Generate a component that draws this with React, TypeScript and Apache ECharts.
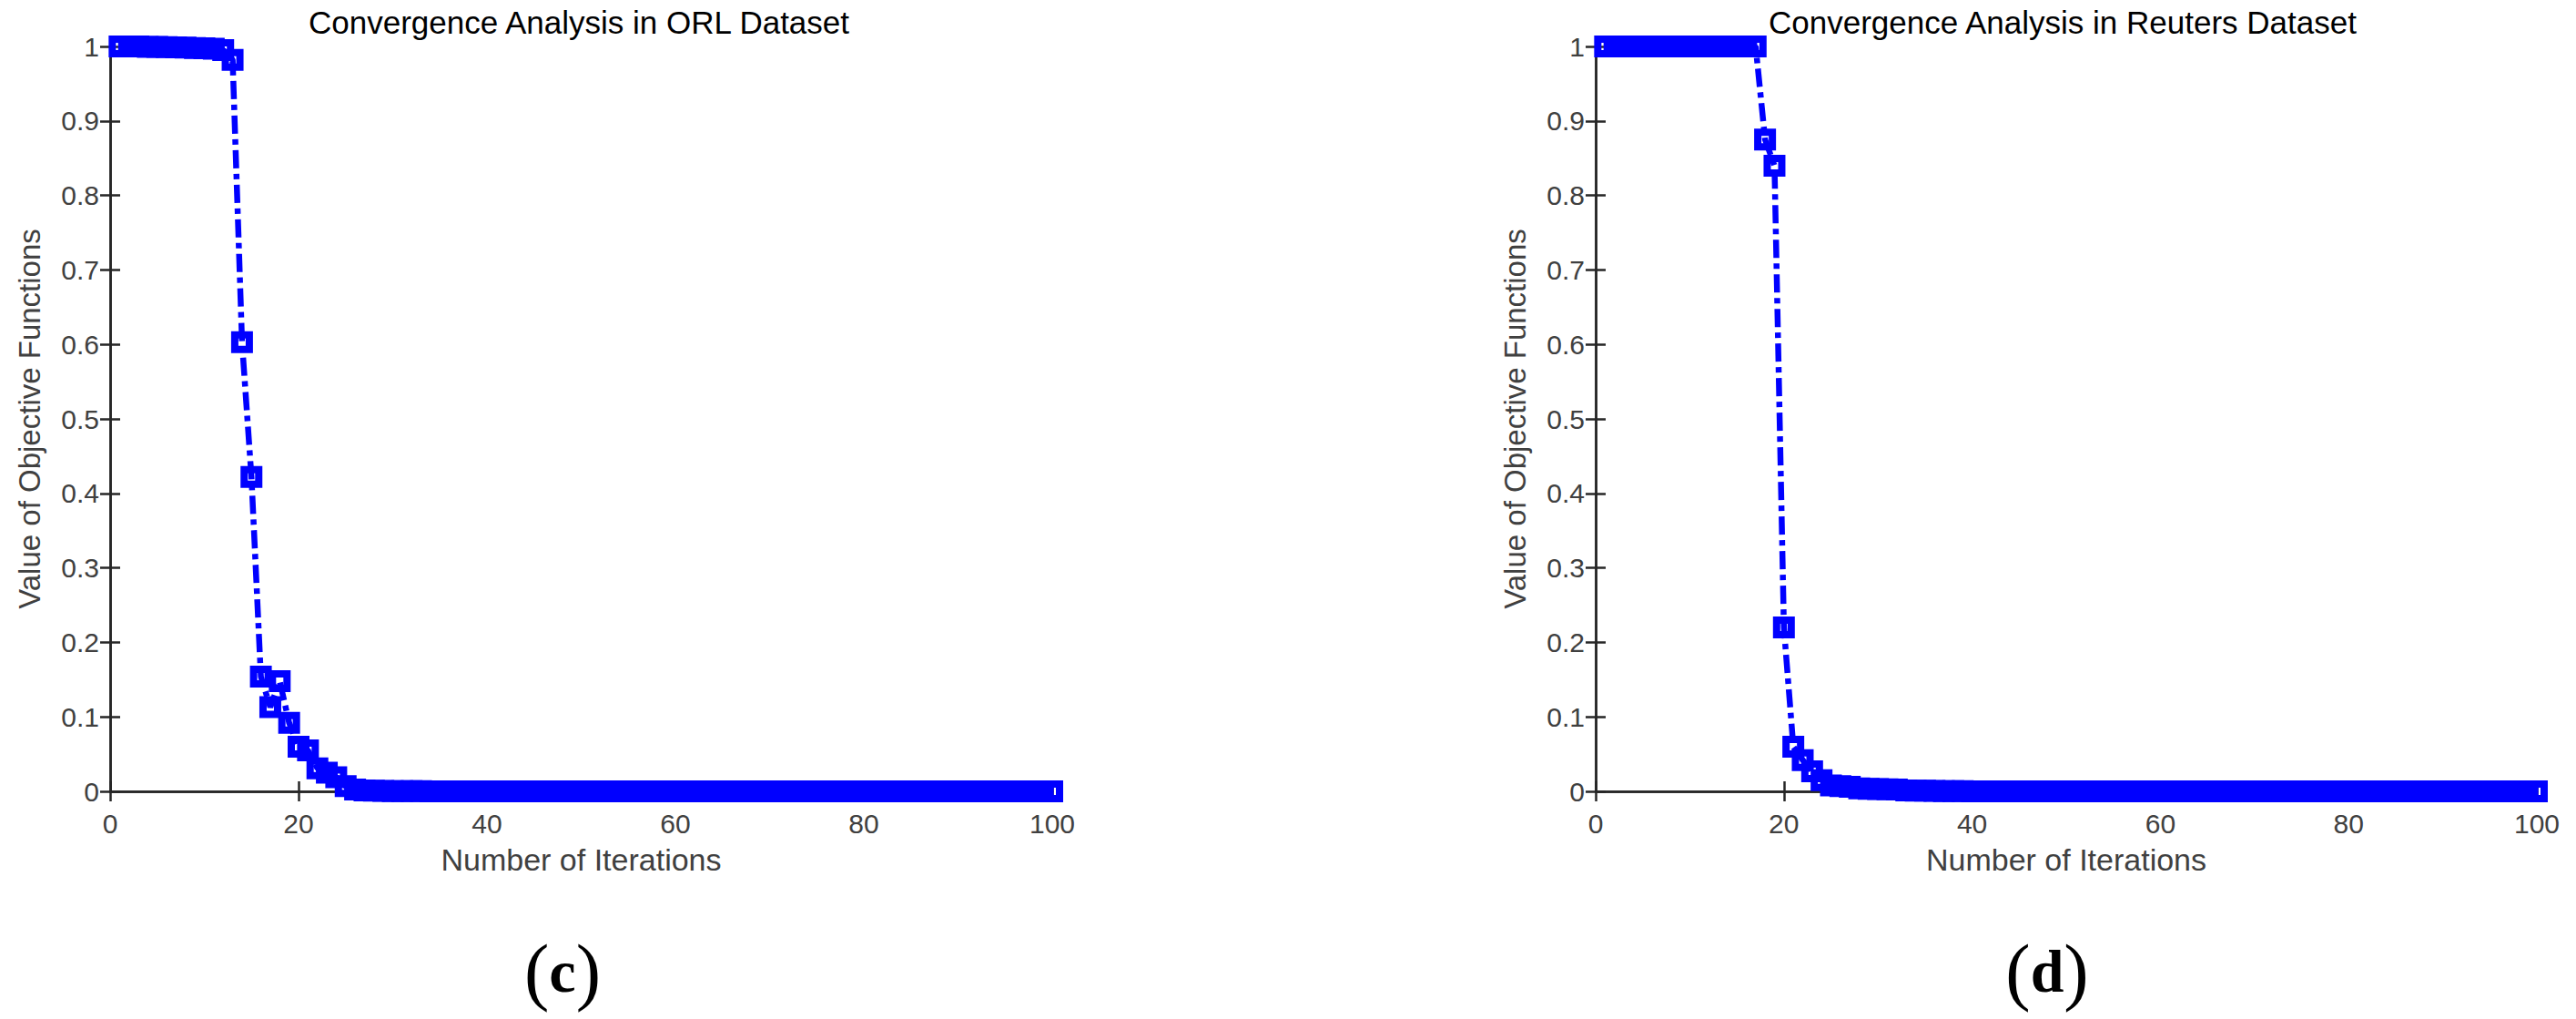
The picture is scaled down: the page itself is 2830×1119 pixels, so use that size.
import React, { useEffect, useRef } from "react";
import * as echarts from "echarts";

// ---------- data ----------
const chartTitles = ["Convergence Analysis in ORL Dataset", "Convergence Analysis in Reuters Dataset"];
const panelLabels = ["c", "d"];
const xAxisName = "Number of Iterations";
const yAxisName = "Value of Objective Functions";

// objective value at iterations 1..100 (ORL)
const orlValues = [
  1.0, 1.0, 1.0, 0.9995, 0.9993, 0.999, 0.9988, 0.9985, 0.998, 0.9975,
  0.997, 0.995, 0.982, 0.603, 0.422, 0.154, 0.113, 0.148, 0.092, 0.06,
  0.055, 0.031, 0.025, 0.019, 0.007, 0.0025, 0.0012, 0.0008, 0.0005, 0.0004,
  0.0003, 0.0002, 0.0002, 0.0001, 0.0001, 0, 0, 0, 0, 0,
  0, 0, 0, 0, 0, 0, 0, 0, 0, 0,
  0, 0, 0, 0, 0, 0, 0, 0, 0, 0,
  0, 0, 0, 0, 0, 0, 0, 0, 0, 0,
  0, 0, 0, 0, 0, 0, 0, 0, 0, 0,
  0, 0, 0, 0, 0, 0, 0, 0, 0, 0,
  0, 0, 0, 0, 0, 0, 0, 0, 0, 0,
];

// objective value at iterations 1..100 (Reuters)
const reutersValues = [
  1, 1, 1, 1, 1, 1, 1, 1, 1, 1,
  1, 1, 1, 1, 1, 1, 1, 0.875, 0.84, 0.22,
  0.06, 0.042, 0.027, 0.015, 0.008, 0.007, 0.006, 0.004, 0.0035, 0.003,
  0.0028, 0.0025, 0.0012, 0.001, 0.0008, 0.0006, 0.0004, 0.0003, 0.0002, 0.0001,
  0, 0, 0, 0, 0, 0, 0, 0, 0, 0,
  0, 0, 0, 0, 0, 0, 0, 0, 0, 0,
  0, 0, 0, 0, 0, 0, 0, 0, 0, 0,
  0, 0, 0, 0, 0, 0, 0, 0, 0, 0,
  0, 0, 0, 0, 0, 0, 0, 0, 0, 0,
  0, 0, 0, 0, 0, 0, 0, 0, 0, 0,
];

const xMin = 0;
const xMax = 100;
const xInterval = 20;
const yMin = 0;
const yMax = 1;
const yInterval = 0.1;

// ---------- styling ----------
const FONT = "'Liberation Sans', Arial, Helvetica, sans-serif";
const SERIF = "'Liberation Serif', 'Times New Roman', serif";
const AXIS_COLOR = "#262626";
const LABEL_COLOR = "#404040";
const BLUE = "#0000ff";

const grids = [
  { left: 121, top: 51, width: 1035, height: 818 },
  { left: 1753, top: 51, width: 1034, height: 818 },
];
const titleCenters = [636, 2266];
const labelCenters = [618, 2249];

function buildOption() {
  const seriesData = [orlValues, reutersValues];
  const xAxes: any[] = [];
  const yAxes: any[] = [];
  const series: any[] = [];
  const line = { show: true, lineStyle: { color: AXIS_COLOR, width: 2.5 } };
  const tick = { show: true, inside: true, length: 11, lineStyle: { color: AXIS_COLOR, width: 2.5 } };

  grids.forEach((_, g) => {
    xAxes.push({
      type: "value", gridIndex: g, position: "bottom",
      min: xMin, max: xMax, interval: xInterval,
      axisLine: line, axisTick: tick, splitLine: { show: false },
      axisLabel: { color: LABEL_COLOR, fontSize: 30, fontFamily: FONT, margin: 20 },
      name: xAxisName, nameLocation: "middle", nameGap: 58,
      nameTextStyle: { color: LABEL_COLOR, fontSize: 34, fontFamily: FONT },
    });
    xAxes.push({
      type: "value", gridIndex: g, position: "top",
      min: xMin, max: xMax, interval: xInterval,
      axisLine: line, axisTick: tick, splitLine: { show: false },
      axisLabel: { show: false },
    });
    yAxes.push({
      type: "value", gridIndex: g, position: "left",
      min: yMin, max: yMax, interval: yInterval,
      axisLine: line, axisTick: tick, splitLine: { show: false },
      axisLabel: { color: LABEL_COLOR, fontSize: 30, fontFamily: FONT, margin: 12 },
      name: yAxisName, nameLocation: "middle", nameGap: 72,
      nameTextStyle: { color: LABEL_COLOR, fontSize: 33, fontFamily: FONT },
    });
    yAxes.push({
      type: "value", gridIndex: g, position: "right",
      min: yMin, max: yMax, interval: yInterval,
      axisLine: line, axisTick: tick, splitLine: { show: false },
      axisLabel: { show: false },
    });
    series.push({
      type: "line",
      xAxisIndex: g * 2,
      yAxisIndex: g * 2,
      data: seriesData[g].map((v, i) => [i + 1, v]),
      symbol: "rect",
      symbolSize: 16,
      showAllSymbol: true,
      clip: false,
      z: 5,
      itemStyle: { color: "transparent", borderColor: BLUE, borderWidth: 8 },
      lineStyle: { color: BLUE, width: 6.5, type: [20, 6, 6, 6], cap: "butt" },
      emphasis: { disabled: true },
    });
  });

  const graphics: any[] = [];
  chartTitles.forEach((t, i) => {
    graphics.push({
      type: "text", x: titleCenters[i], y: 24,
      style: { text: t, fill: "#000", font: `35px ${FONT}`, align: "center", verticalAlign: "middle" },
    });
  });
  panelLabels.forEach((l, i) => {
    graphics.push({
      type: "text", x: labelCenters[i], y: 1066,
      style: {
        text: `{p|(}{l|${l}}{p|)}`,
        align: "center", verticalAlign: "middle",
        rich: {
          p: { fontFamily: SERIF, fontSize: 82, fill: "#000", fontWeight: "normal" },
          l: { fontFamily: SERIF, fontSize: 66, fill: "#000", fontWeight: "bold" },
        },
      },
    });
  });

  return {
    animation: false,
    backgroundColor: "#fff",
    grid: grids.map((g) => ({ ...g, containLabel: false })),
    xAxis: xAxes,
    yAxis: yAxes,
    series,
    graphic: graphics,
  };
}

export default function App() {
  const ref = useRef<HTMLDivElement>(null);
  useEffect(() => {
    if (!ref.current) return;
    const chart = echarts.init(ref.current, undefined, { renderer: "svg" });
    chart.setOption(buildOption() as any);
    return () => chart.dispose();
  }, []);
  return (
    <div
      ref={ref}
      style={{ position: "fixed", left: 0, top: 0, width: "2830px", height: "1119px", background: "#fff" }}
    />
  );
}
